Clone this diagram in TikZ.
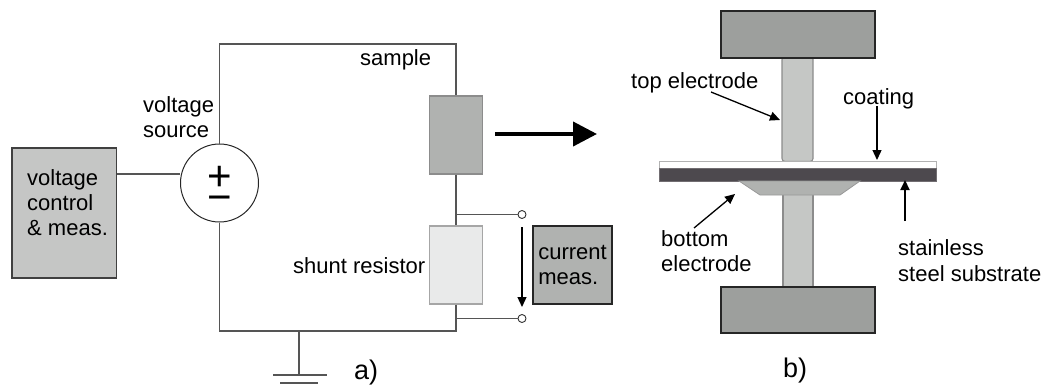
\documentclass[tikz,border=0pt]{standalone}
\usepackage{fontspec}
\setmainfont{Liberation Sans}
\usetikzlibrary{arrows.meta}
\definecolor{wire}{HTML}{555555}
\definecolor{ctrlfill}{HTML}{C5C6C5}
\definecolor{samplefill}{HTML}{B0B2B0}
\definecolor{shuntfill}{HTML}{E9EAEA}
\definecolor{blockfill}{HTML}{9D9F9D}
\definecolor{columnfill}{HTML}{C5C7C5}
\definecolor{subfill}{HTML}{4D494E}
\tikzset{
  box/.style={draw, inner sep=0pt, line width=1.1pt},
  lab/.style={anchor=base west, inner sep=0pt, font=\fontsize{22}{25}\selectfont, text=black},
  biglab/.style={anchor=base west, inner sep=0pt, font=\fontsize{27}{30}\selectfont, text=black},
  wireline/.style={draw=wire, line width=1.4pt},
  term/.style={circle, draw=black!80, fill=white, inner sep=0pt, minimum size=8pt, line width=.9pt},
  thinarrow/.style={draw=black, line width=1.3pt, -{Triangle[length=10pt,width=9pt]}},
}
\newcommand{\boxat}[7]{\node[box, draw=#6, fill=#7, minimum width=#4pt, minimum height=#5pt] (#1) at (#2,#3) {};}
\begin{document}
\begin{tikzpicture}[x=1pt,y=-1pt]
\useasboundingbox (0,0) rectangle (1043,388);
% part a: connector anchors
\coordinate (topR) at (456,44);
\coordinate (botR) at (456,331);
\coordinate (gndTop) at (299,331);
\coordinate (gnd1) at (299,375);
\coordinate (gnd1a) at (273,375);
\coordinate (gnd1b) at (327,375);
\coordinate (gnd2a) at (280,383);
\coordinate (gnd2b) at (318,383);
\coordinate (tap1) at (456,214.5);
\coordinate (tap2) at (456,318.5);
\coordinate (ctrlOut) at (116.5,174);
% part a: blocks
\boxat{ctrl}{64.25}{213}{104.5}{130}{black!75}{ctrlfill}
\node[circle, draw=black!85, fill=white, inner sep=0pt, minimum size=78pt, line width=1pt] (src) at (219.5,183) {};
\boxat{sample}{456}{135}{53}{78}{black!45}{samplefill}
\boxat{shunt}{456}{265}{53}{78}{black!35}{shuntfill}
\node[box, draw=black!85, fill=samplefill, minimum width=79pt, minimum height=78pt, align=left, font=\fontsize{22}{25}\selectfont, text=black] (cur) at (572.5,265) {current\\meas.};
\node[term] (t1) at (522,214.5) {};
\node[term] (t2) at (522,318.5) {};
% part a: wires
\draw[wireline] (src.north) |- (topR) -- (sample.north);
\draw[wireline] (sample.south) -- (shunt.north);
\draw[wireline] (shunt.south) -- (botR) -| (src.south);
\draw[wireline] (ctrlOut) -- (src.west |- ctrlOut);
\draw[wireline] (tap1) -- (t1.west);
\draw[wireline] (tap2) -- (t2.west);
\draw[wireline] (gndTop) -- (gnd1);
\draw[wireline] (gnd1a) -- (gnd1b);
\draw[wireline] (gnd2a) -- (gnd2b);
\draw[thinarrow] (t1.south |- 0,227) -- (t2.north |- 0,307);
\coordinate (bigA) at (495,134);
\coordinate (bigB) at (597,134);
\draw[line width=4pt, -{Triangle[length=24pt,width=24pt]}] (bigA) -- (bigB);
% part a: labels
\node[anchor=center, inner sep=0pt, align=center, font=\fontsize{42}{21}\selectfont, text=black] (pm) at (219.5,189) {+\\−};
\node[lab] (lv1) at (27,185) {voltage};
\node[lab] (lv2) at (27,210) {control};
\node[lab] (lv3) at (27,235) {\& meas.};
\node[lab] (ls1) at (143,112) {voltage};
\node[lab] (ls2) at (143,137) {source};
\node[lab] (lsam) at (360,65) {sample};
\node[lab] (lshunt) at (293,273) {shunt resistor};
\node[biglab] (la) at (354,379) {a)};
% part b: shapes
\node[draw=black!45, fill=columnfill, minimum width=31pt, minimum height=105pt, inner sep=0pt, rounded corners=3pt, line width=1.1pt] (upper) at (797.5,109) {};
\node[draw=black!45, fill=columnfill, minimum width=30pt, minimum height=93pt, inner sep=0pt, line width=1.3pt] (lower) at (798,241) {};
\boxat{topblock}{798}{34.5}{154}{47}{black!85}{blockfill}
\boxat{botblock}{798}{310}{154}{46}{black!85}{blockfill}
\node[draw=black!30, fill=white, minimum width=277pt, minimum height=8pt, inner sep=0pt, line width=1pt] (coat) at (797.5,165) {};
\node[draw=subfill!80, fill=subfill, minimum width=277pt, minimum height=13pt, inner sep=0pt, line width=.5pt] (sub) at (797.5,174.5) {};
\coordinate (tz1) at (739,181);
\coordinate (tz2) at (760,195);
\coordinate (tz3) at (840,195);
\coordinate (tz4) at (860,181);
\draw[draw=black!40, fill=samplefill, line width=.8pt] (tz1) -- (tz2) -- (tz3) -- (tz4) -- cycle;
% part b: labels
\node[lab] (ltop) at (631,88) {top electrode};
\node[lab] (lcoat) at (843,104) {coating};
\node[lab] (lbot1) at (661,246) {bottom};
\node[lab] (lbot2) at (661,271) {electrode};
\node[lab] (lst1) at (898,255) {stainless};
\node[lab] (lst2) at (898,281) {steel substrate};
\node[biglab] (lb) at (783,377) {b)};
% part b: arrows
\coordinate (aTopS) at (711,92);
\coordinate (aTopE) at (780,120);
\coordinate (aCoatS) at (877,106);
\coordinate (aCoatE) at (877,160);
\coordinate (aBotS) at (694,228);
\coordinate (aBotE) at (735,194);
\coordinate (aStS) at (905,221);
\coordinate (aStE) at (905,180);
\draw[thinarrow] (aTopS) -- (aTopE);
\draw[thinarrow] (aCoatS) -- (aCoatE);
\draw[thinarrow] (aBotS) -- (aBotE);
\draw[draw=black, line width=2pt, -{Triangle[length=10pt,width=9pt]}] (aStS) -- (aStE);
\end{tikzpicture}
\end{document}
